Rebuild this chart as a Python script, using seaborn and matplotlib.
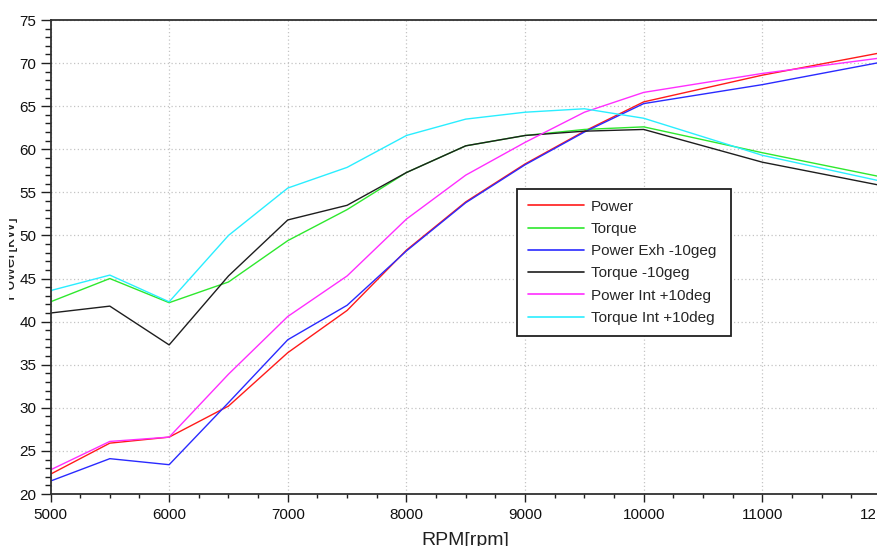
import matplotlib
matplotlib.use("Agg")
import matplotlib.pyplot as plt
from matplotlib.ticker import MultipleLocator
from matplotlib.transforms import Bbox, TransformedBbox
import numpy as np
import pandas as pd
import seaborn as sns

# Engine speed sweep
rpm = [5000, 5500, 6000, 6500, 7000, 7500, 8000, 8500, 9000, 9500, 10000, 11000, 12000]

# Power [kW] and torque curves for the three cam timings
power = [22.3, 25.9, 26.6, 30.2, 36.4, 41.3, 48.3, 53.9, 58.3, 62.1, 65.5, 68.6, 71.2]
torque = [42.3, 45.0, 42.2, 44.6, 49.4, 53.0, 57.3, 60.4, 61.6, 62.3, 62.6, 59.6, 56.8]
power_exh = [21.5, 24.1, 23.4, 30.6, 37.9, 41.9, 48.2, 53.8, 58.2, 62.0, 65.3, 67.5, 70.1]
torque_exh = [41.0, 41.8, 37.3, 45.3, 51.8, 53.5, 57.3, 60.4, 61.6, 62.1, 62.3, 58.5, 55.8]
power_int = [22.8, 26.1, 26.6, 33.9, 40.6, 45.3, 51.9, 57.0, 60.8, 64.3, 66.6, 68.8, 70.6]
torque_int = [43.6, 45.4, 42.3, 50.0, 55.5, 57.9, 61.6, 63.5, 64.3, 64.7, 63.6, 59.3, 56.3]

series_names = ["Power", "Torque", "Power Exh -10geg", "Torque -10geg",
                "Power Int +10deg", "Torque Int +10deg"]
series_values = [power, torque, power_exh, torque_exh, power_int, torque_int]
series_colors = ["#ff1a1a", "#2ee82e", "#2a2aff", "#1e1e1e", "#ff2eff", "#2aeeff"]

x_ticks = [5000, 6000, 7000, 8000, 9000, 10000, 11000, 12000]
y_ticks = [20, 25, 30, 35, 40, 45, 50, 55, 60, 65, 70, 75]

df = pd.concat(
    [pd.DataFrame({"rpm": rpm, "value": v, "series": n})
     for n, v in zip(series_names, series_values)],
    ignore_index=True,
)

sns.set_style("white")
plt.rcParams["font.family"] = ["Liberation Sans", "DejaVu Sans"]

W, H = 877, 546
fig = plt.figure(figsize=(W / 100, H / 100), dpi=100)
left, right, top, bottom = 50.5, 881, 20, 494
ax = fig.add_axes([left / W, 1 - bottom / H, (right - left) / W, (bottom - top) / H])

sns.lineplot(data=df, x="rpm", y="value", hue="series", hue_order=series_names,
             palette=dict(zip(series_names, series_colors)), sort=False,
             linewidth=1.0, ax=ax, legend=True)

ax.set_xlim(5000, 12000)
ax.set_ylim(20, 75)
ax.set_xticks(x_ticks)
ax.set_yticks(y_ticks)
ax.xaxis.set_minor_locator(MultipleLocator(250))
ax.yaxis.set_minor_locator(MultipleLocator(1))
ax.tick_params(axis="both", which="major", direction="out", labelsize=11,
               color="#202020", labelcolor="#101010", width=1.0)
ax.tick_params(axis="x", which="major", length=6, pad=4)
ax.tick_params(axis="y", which="major", length=7.5, pad=2.5)
ax.tick_params(axis="x", which="minor", length=3, width=1.0, color="#202020")
ax.tick_params(axis="y", which="minor", length=4, width=1.0, color="#202020")
ax.tick_params(bottom=True, left=True, which="both")

ax.grid(True, which="major", linestyle=(0, (1, 2)), color="#c4c4c4", linewidth=0.9)
for side in ["left", "bottom", "top"]:
    ax.spines[side].set_visible(True)
    ax.spines[side].set_color("#303030")
    ax.spines[side].set_linewidth(1.3)
ax.spines["right"].set_visible(False)

# the last x tick label runs past the right border of the chart area
right_clip = TransformedBbox(Bbox([[0, 0], [875 / W, 1]]), fig.transFigure)
for lbl in ax.get_xticklabels():
    lbl.set_clip_box(right_clip)
    lbl.set_clip_on(True)

ax.set_xlabel("")
ax.set_ylabel("")
fig.text(465 / W, 1 / H, "RPM[rpm]", ha="center", va="baseline", fontsize=14,
         color="#202020")
ylab = fig.text(17 / W, 1 - 257 / H, "Power[kW]", ha="right", va="center",
                rotation=90, fontsize=12.5, color="#202020")
# the y label sits against the left border, only its right part is shown
ylab.set_clip_box(TransformedBbox(Bbox([[9 / W, 0], [1, 1]]), fig.transFigure))
ylab.set_clip_on(True)

handles, labels = ax.get_legend_handles_labels()
leg = ax.legend(handles, labels, loc="upper left",
                bbox_to_anchor=(517 / W, 1 - 334 / H, 214 / W, 145 / H),
                bbox_transform=fig.transFigure, mode="expand",
                borderaxespad=0, fontsize=11, handlelength=3.7, handletextpad=0.45,
                labelspacing=0.54, borderpad=0.7, fancybox=False, framealpha=1,
                edgecolor="#202020")
leg.get_frame().set_linewidth(1.3)
for line in leg.get_lines():
    line.set_linewidth(1.2)

fig.savefig("out.png", dpi=100)
